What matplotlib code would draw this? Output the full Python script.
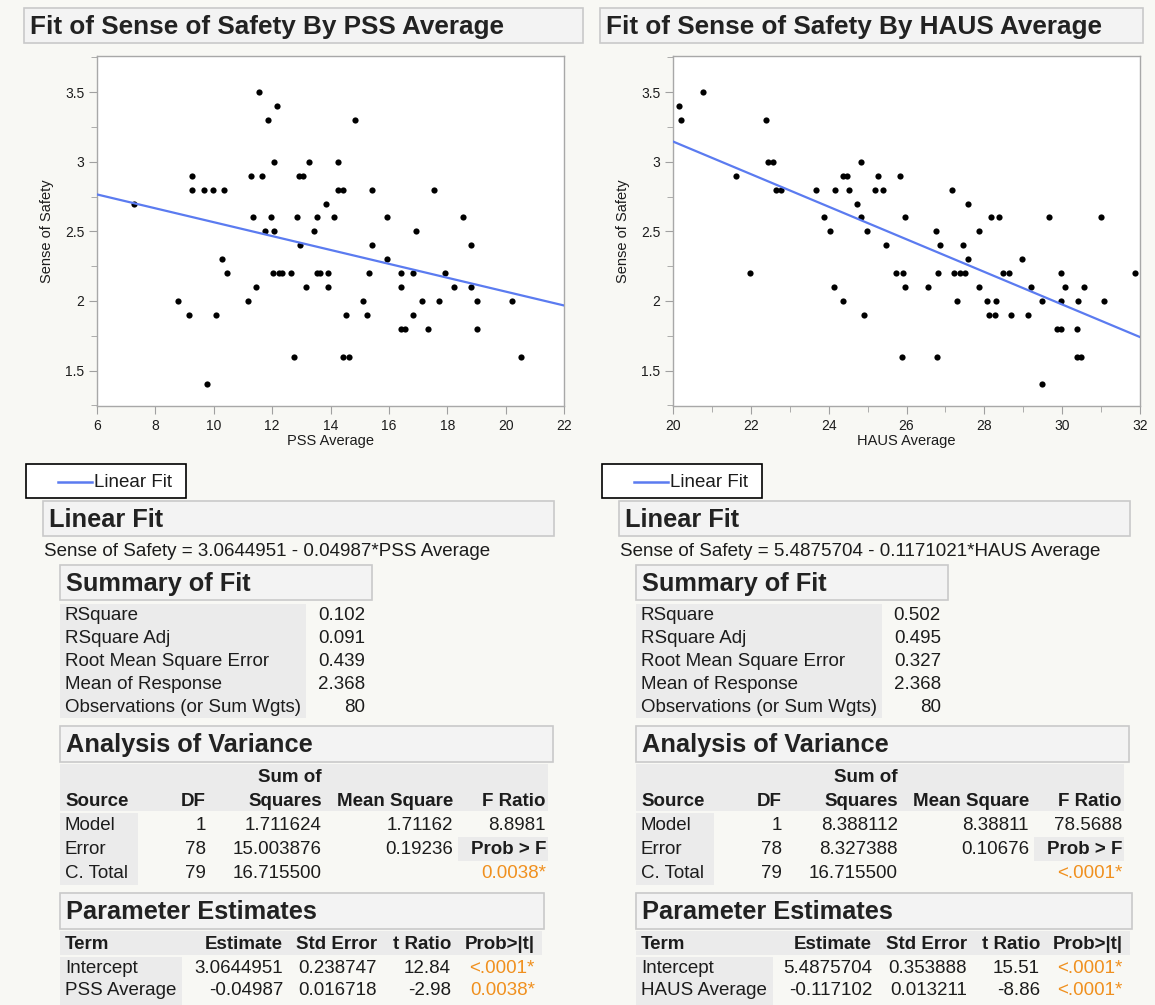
import numpy as np
import matplotlib.pyplot as plt
from matplotlib.patches import Rectangle
from matplotlib.ticker import MultipleLocator

plt.rcParams['font.family'] = ['Liberation Sans', 'DejaVu Sans']

# ---------------- data ----------------
pss_avg = [7.27, 9.26, 9.26, 9.66, 9.96, 10.36, 10.27, 11.56, 12.15, 11.86, 12.05, 11.26, 11.65,
           11.35, 11.95, 11.75, 12.05, 12.85, 12.94, 12.93, 13.05, 13.25, 13.55, 13.44, 13.85,
           14.84, 14.25, 14.25, 14.44, 15.43, 17.53, 14.13, 15.94, 18.53, 16.93, 15.43, 18.83, 15.94,
           10.45, 8.76, 9.16, 10.06, 9.76, 11.16, 11.45, 12.03, 12.24, 12.35, 12.65, 12.75, 13.15,
           13.55, 13.65, 13.91, 13.91,
           15.33, 16.43, 16.84, 17.94, 16.43, 18.24, 18.83, 15.13, 17.14, 17.72, 19.03, 20.22,
           14.54, 15.24, 16.84, 16.43, 16.56, 17.33, 19.03, 14.43, 14.64, 20.51]
safety_pss = [2.7, 2.9, 2.8, 2.8, 2.8, 2.8, 2.3, 3.5, 3.4, 3.3, 3.0, 2.9, 2.9,
              2.6, 2.6, 2.5, 2.5, 2.6, 2.4, 2.9, 2.9, 3.0, 2.6, 2.5, 2.7,
              3.3, 3.0, 2.8, 2.8, 2.8, 2.8, 2.6, 2.6, 2.6, 2.5, 2.4, 2.4, 2.3,
              2.2, 2.0, 1.9, 1.9, 1.4, 2.0, 2.1, 2.2, 2.2, 2.2, 2.2, 1.6, 2.1,
              2.2, 2.2, 2.2, 2.1,
              2.2, 2.2, 2.2, 2.2, 2.1, 2.1, 2.1, 2.0, 2.0, 2.0, 2.0, 2.0,
              1.9, 1.9, 1.9, 1.8, 1.8, 1.8, 1.8, 1.6, 1.6, 1.6]

haus_avg = [20.15, 20.2, 20.77, 22.38, 22.44, 22.56, 21.62, 22.65, 22.78, 23.67, 24.15, 24.53, 24.37,
            24.46, 24.82, 25.26, 25.18, 25.39, 25.83, 24.73, 23.89, 24.82, 25.97, 24.04, 24.98, 25.48,
            27.18, 27.58, 28.18, 28.38, 29.65, 30.99, 26.75, 27.86, 26.87, 27.44, 27.58, 28.98,
            21.99, 24.13, 24.38, 24.91, 25.72, 25.91, 25.95, 25.88,
            26.81, 27.21, 27.37, 27.5, 28.48, 28.63, 29.97, 31.86, 26.56, 27.87, 29.2, 30.06, 30.55,
            27.29, 28.07, 28.31, 29.47, 29.97, 30.41, 31.08, 28.11, 28.27, 28.68, 29.13,
            29.87, 29.97, 30.38, 30.37, 30.48, 26.78, 29.47]
safety_haus = [3.4, 3.3, 3.5, 3.3, 3.0, 3.0, 2.9, 2.8, 2.8, 2.8, 2.8, 2.8, 2.9,
               2.9, 3.0, 2.9, 2.8, 2.8, 2.9, 2.7, 2.6, 2.6, 2.6, 2.5, 2.5, 2.4,
               2.8, 2.7, 2.6, 2.6, 2.6, 2.6, 2.5, 2.5, 2.4, 2.4, 2.3, 2.3,
               2.2, 2.1, 2.0, 1.9, 2.2, 2.2, 2.1, 1.6,
               2.2, 2.2, 2.2, 2.2, 2.2, 2.2, 2.2, 2.2, 2.1, 2.1, 2.1, 2.1, 2.1,
               2.0, 2.0, 2.0, 2.0, 2.0, 2.0, 2.0, 1.9, 1.9, 1.9, 1.9,
               1.8, 1.8, 1.8, 1.6, 1.6, 1.6, 1.4]

fit_pss = (3.0644951, -0.04987)
fit_haus = (5.4875704, -0.1171021)

summary_labels = ['RSquare', 'RSquare Adj', 'Root Mean Square Error', 'Mean of Response',
                  'Observations (or Sum Wgts)']
summary_pss = ['0.102', '0.091', '0.439', '2.368', '80']
summary_haus = ['0.502', '0.495', '0.327', '2.368', '80']

anova_sources = ['Model', 'Error', 'C. Total']
anova_df = ['1', '78', '79']
anova_ss_pss = ['1.711624', '15.003876', '16.715500']
anova_ms_pss = ['1.71162', '0.19236', '']
anova_ss_haus = ['8.388112', '8.327388', '16.715500']
anova_ms_haus = ['8.38811', '0.10676', '']
f_ratio_pss, prob_f_pss = '8.8981', '0.0038*'
f_ratio_haus, prob_f_haus = '78.5688', '<.0001*'

param_pss = [['Intercept', '3.0644951', '0.238747', '12.84', '<.0001*'],
             ['PSS Average', '-0.04987', '0.016718', '-2.98', '0.0038*']]
param_haus = [['Intercept', '5.4875704', '0.353888', '15.51', '<.0001*'],
              ['HAUS Average', '-0.117102', '0.013211', '-8.86', '<.0001*']]

# ---------------- styling ----------------
W, H = 1155, 1005
BG = '#f8f8f4'
TXT = '#1c1c1c'
ORANGE = '#f0901e'
BLUE = '#5b7bf0'
CELL = '#ebebeb'
HEAD_FILL = '#f3f3f3'
HEAD_EDGE = '#c9c9c9'
BODY = 13.5
HEAD = 18.3

fig = plt.figure(figsize=(W / 100, H / 100), dpi=100, facecolor=BG)
bg = fig.add_axes([0, 0, 1, 1])
bg.set_xlim(0, W)
bg.set_ylim(H, 0)
bg.axis('off')


def rect(x0, y0, x1, y1, fc, ec='none', lw=1.0):
    bg.add_patch(Rectangle((x0, y0), x1 - x0, y1 - y0, facecolor=fc, edgecolor=ec, linewidth=lw))


def header(x0, y0, x1, y1, text, size=HEAD):
    rect(x0, y0, x1, y1, HEAD_FILL, HEAD_EDGE, 1.2)
    bg.text(x0 + 6, (y0 + y1) / 2 + 1, text, fontsize=size, fontweight='bold', color='#222222',
            ha='left', va='center')


def t(x, y, s, ha='left', bold=False, color=TXT, size=BODY):
    bg.text(x, y, s, fontsize=size, fontweight='bold' if bold else 'normal', color=color,
            ha=ha, va='center')


def scatter_axes(x0, x1, xs, ys, fit, xlim, xlabel, minor_x):
    y0, y1 = 56, 406
    ax = fig.add_axes([x0 / W, 1 - y1 / H, (x1 - x0) / W, (y1 - y0) / H])
    ax.set_facecolor('white')
    ax.scatter(xs, ys, s=20, color='black', zorder=2, linewidths=0)
    xx = np.array(xlim)
    ax.plot(xx, fit[0] + fit[1] * xx, color=BLUE, lw=1.6, zorder=3)
    ax.set_xlim(*xlim)
    ax.set_ylim(1.245, 3.76)
    ax.xaxis.set_major_locator(MultipleLocator(2))
    if minor_x:
        ax.xaxis.set_minor_locator(MultipleLocator(1))
    ax.yaxis.set_minor_locator(MultipleLocator(0.25))
    ax.set_yticks([1.5, 2, 2.5, 3, 3.5])
    ax.set_yticklabels(['1.5', '2', '2.5', '3', '3.5'])
    for sp in ax.spines.values():
        sp.set_color('#a8a8a8')
        sp.set_linewidth(1.0)
    ax.tick_params(which='major', length=6, color='#a0a0a0', labelsize=10, labelcolor=TXT, pad=3)
    ax.tick_params(which='minor', length=4, color='#a0a0a0')
    ax.set_xlabel(xlabel, fontsize=10.5, color=TXT, labelpad=1)
    ax.set_ylabel('Sense of Safety', fontsize=10.5, color=TXT, labelpad=8)
    return ax


def panel(ox, title_x1, title, xs, ys, fit, xlim, xlabel, minor_x, eq, summ, ss, ms, fr, pf,
          params, pcols, pterm_w):
    # title + plot
    header(ox + 24, 8, title_x1, 43, title, size=18.8)
    scatter_axes(ox + 97, ox + 564, xs, ys, fit, xlim, xlabel, minor_x)

    # legend
    rect(ox + 26, 464, ox + 186, 498, 'white', 'black', 1.2)
    bg.plot([ox + 58, ox + 92], [482, 482], color=BLUE, lw=1.8)
    t(ox + 94, 482, 'Linear Fit')

    # linear fit
    header(ox + 43, 501, ox + 554, 536, 'Linear Fit')
    t(ox + 44, 551, eq)

    # summary of fit
    header(ox + 60, 565, ox + 372, 600, 'Summary of Fit')
    rect(ox + 60, 604, ox + 306, 718, CELL)
    for i, (lab, val) in enumerate(zip(summary_labels, summ)):
        y = 615 + i * 23.2
        t(ox + 65, y, lab)
        t(ox + 365, y, val, ha='right')

    # analysis of variance
    header(ox + 60, 726, ox + 553, 762, 'Analysis of Variance')
    rect(ox + 60, 764, ox + 548, 811, CELL)
    rect(ox + 60, 813, ox + 138, 885, CELL)
    rect(ox + 458, 837, ox + 548, 861, CELL)
    t(ox + 322, 777, 'Sum of', ha='right', bold=True)
    t(ox + 65, 801, 'Source', bold=True)
    t(ox + 206, 801, 'DF', ha='right', bold=True)
    t(ox + 322, 801, 'Squares', ha='right', bold=True)
    t(ox + 453, 801, 'Mean Square', ha='right', bold=True)
    t(ox + 546, 801, 'F Ratio', ha='right', bold=True)
    for i in range(3):
        y = 825 + i * 24
        t(ox + 65, y, anova_sources[i])
        t(ox + 206, y, anova_df[i], ha='right')
        t(ox + 322, y, ss[i], ha='right')
        t(ox + 453, y, ms[i], ha='right')
    t(ox + 546, 825, fr, ha='right')
    t(ox + 546, 849, 'Prob > F', ha='right', bold=True)
    t(ox + 546, 873, pf, ha='right', color=ORANGE)

    # parameter estimates
    header(ox + 60, 893, ox + pcols[-1] + 9, 929, 'Parameter Estimates')
    rect(ox + 60, 931, ox + pcols[-1] + 7, 955, CELL)
    rect(ox + 60, 957, ox + 60 + pterm_w, 1005, CELL)
    heads = ['Estimate', 'Std Error', 't Ratio', 'Prob>|t|']
    t(ox + 65, 944, 'Term', bold=True)
    for c, h in zip(pcols, heads):
        t(ox + c, 944, h, ha='right', bold=True)
    for r, row in enumerate(params):
        y = 968 + r * 22
        t(ox + 65, y, row[0])
        for j, c in enumerate(pcols):
            t(ox + c, y, row[j + 1], ha='right', color=ORANGE if j == 3 else TXT)


panel(0, 583, 'Fit of Sense of Safety By PSS Average', pss_avg, safety_pss, fit_pss, (6, 22),
      'PSS Average', False, 'Sense of Safety = 3.0644951 - 0.04987*PSS Average',
      summary_pss, anova_ss_pss, anova_ms_pss, f_ratio_pss, prob_f_pss, param_pss,
      [283, 377, 451, 535], 122)

panel(576, 1143, 'Fit of Sense of Safety By HAUS Average', haus_avg, safety_haus, fit_haus,
      (20, 32), 'HAUS Average', True, 'Sense of Safety = 5.4875704 - 0.1171021*HAUS Average',
      summary_haus, anova_ss_haus, anova_ms_haus, f_ratio_haus, prob_f_haus, param_haus,
      [296, 391, 464, 547], 137)

fig.savefig('out.png', dpi=100, facecolor=BG)
